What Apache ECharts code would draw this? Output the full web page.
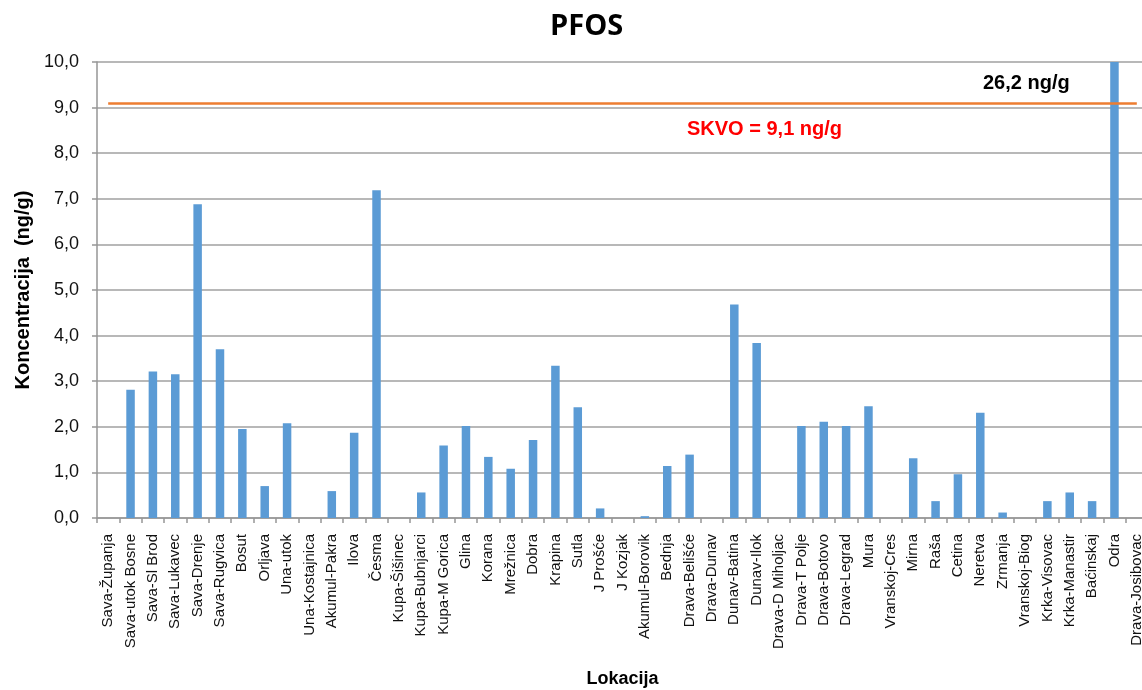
<!DOCTYPE html>
<html>
<head>
<meta charset="utf-8">
<script src="https://cdn.jsdelivr.net/npm/echarts@6/dist/echarts.min.js"></script>
<style>html,body{margin:0;padding:0;background:#fff;overflow:hidden}#c{width:1142px;height:690px}</style>
</head>
<body>
<div id="c"></div>
<script>
const categories = ["Sava-Županja","Sava-utok Bosne","Sava-Sl Brod","Sava-Lukavec","Sava-Drenje","Sava-Rugvica","Bosut","Orljava","Una-utok","Una-Kostajnica","Akumul-Pakra","Ilova","Česma","Kupa-Šišinec","Kupa-Bubnjarci","Kupa-M Gorica","Glina","Korana","Mrežnica","Dobra","Krapina","Sutla","J Prošće","J Kozjak","Akumul-Borovik","Bednja","Drava-Belišće","Drava-Dunav","Dunav-Batina","Dunav-Ilok","Drava-D Miholjac","Drava-T Polje","Drava-Botovo","Drava-Legrad","Mura","Vranskoj-Cres","Mirna","Raša","Cetina","Neretva","Zrmanja","Vranskoj-Biog","Krka-Visovac","Krka-Manastir","Baćinskaj","Odra","Drava-Josibovac"];
const pfos = [0,2.81,3.21,3.15,6.88,3.7,1.95,0.7,2.08,0,0.59,1.87,7.19,0,0.56,1.59,2.02,1.34,1.08,1.71,3.34,2.43,0.21,0,0.04,1.14,1.39,0,4.68,3.84,0,2.02,2.11,2.02,2.45,0,1.31,0.37,0.96,2.31,0.12,0,0.37,0.56,0.37,26.2,0];
const skvo = 9.1;
const yTicks = {min: 0, max: 10, interval: 1};
const titleText = "PFOS";
const oddLabel = "26,2 ng/g";
const skvoLabel = "SKVO = 9,1 ng/g";

const chart = echarts.init(document.getElementById('c'), null, {renderer: 'canvas'});
const fontFam = '"Liberation Sans", Arial, sans-serif';
chart.setOption({
  animation: false,
  backgroundColor: '#ffffff',
  grid: {left: 97, top: 62, height: 456, right: -6, containLabel: false, outerBoundsMode: 'none'},
  xAxis: {
    type: 'category',
    data: categories,
    boundaryGap: true,
    name: 'Lokacija',
    nameLocation: 'middle',
    nameGap: 152,
    nameTextStyle: {fontFamily: fontFam, fontWeight: 'bold', fontSize: 18, color: '#000'},
    axisLine: {lineStyle: {color: '#969696', width: 1.5}},
    axisTick: {show: true, alignWithLabel: false, length: 5, lineStyle: {color: '#969696', width: 1.5}},
    axisLabel: {interval: 0, rotate: 90, fontFamily: fontFam, fontSize: 15, color: '#111', margin: 16, hideOverlap: false}
  },
  yAxis: {
    type: 'value',
    min: yTicks.min, max: yTicks.max, interval: yTicks.interval,
    name: 'Koncentracija  (ng/g)',
    nameLocation: 'middle',
    nameGap: 64,
    nameRotate: 90,
    nameTextStyle: {fontFamily: fontFam, fontWeight: 'bold', fontSize: 20, color: '#000'},
    axisLine: {show: true, lineStyle: {color: '#969696', width: 1.5}},
    axisTick: {show: true, length: 5, lineStyle: {color: '#969696', width: 1.5}},
    splitLine: {show: true, lineStyle: {color: '#a0a0a0', width: 1.5}},
    axisLabel: {fontFamily: fontFam, fontSize: 18, color: '#111', margin: 18,
      formatter: v => v.toFixed(1).replace('.', ',')}
  },
  series: [{
    type: 'bar',
    data: pfos,
    barWidth: '38%',
    clip: true,
    itemStyle: {color: '#5B9BD5'},
    markLine: {
      symbol: 'none',
      silent: true,
      label: {show: false},
      lineStyle: {color: '#ED7D31', width: 2.5, type: 'solid'},
      data: [[{coord: [categories[0], skvo]}, {coord: [categories[categories.length - 1], skvo]}]]
    }
  }],
  graphic: [
    {type: 'text', left: 550, top: 12, style: {text: titleText, font: 'bold 29px "Open Sans", Lato, sans-serif', fill: '#000'}},
    {type: 'text', left: 983, top: 73, style: {text: oddLabel, font: 'bold 20px ' + fontFam, fill: '#000'}},
    {type: 'text', left: 687, top: 119, style: {text: skvoLabel, font: 'bold 20px ' + fontFam, fill: '#FF0000'}}
  ]
});
</script>
</body>
</html>
